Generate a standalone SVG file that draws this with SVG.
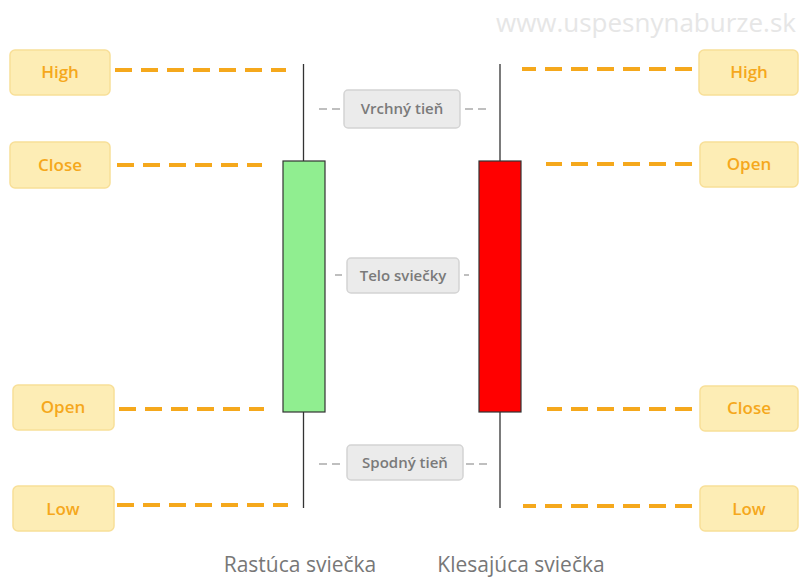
<svg xmlns="http://www.w3.org/2000/svg" width="799" height="577" viewBox="0 0 799 577">
<style>
.tag rect{fill:#fdedb5;stroke:#f8df98;stroke-width:1.5}
.tag text{fill:#f5a81c;font-family:"Open Sans","Liberation Sans",sans-serif;font-size:17px;font-weight:600;text-anchor:middle}
.lab rect{fill:#ebebeb;stroke:#d4d4d4;stroke-width:1.5}
.lab text{fill:#7a7a7a;font-family:"Open Sans","Liberation Sans",sans-serif;font-size:15px;font-weight:600;text-anchor:middle}
.od{stroke:#f5a81c;stroke-width:4;stroke-dasharray:17 9;fill:none}
.gd{stroke:#aaa;stroke-width:1.5;stroke-dasharray:8 5;fill:none}
.wick{stroke:#333;stroke-width:1.3}
.cap{fill:#777;font-family:"Open Sans","Liberation Sans",sans-serif;font-size:21px;text-anchor:middle}
</style>
<rect width="799" height="577" fill="#fff"/>
<text x="796" y="32" fill="#e6e6e6" font-family="Open Sans, Liberation Sans, sans-serif" font-size="26" text-anchor="end">www.uspesnynaburze.sk</text>
<g id="connectors">
<line class="od" x1="115" y1="70" x2="286" y2="70"/>
<line class="od" x1="117" y1="165" x2="262" y2="165"/>
<line class="od" x1="119" y1="409" x2="264" y2="409"/>
<line class="od" x1="117" y1="505" x2="288" y2="505"/>
<line class="od" x1="692" y1="69" x2="522" y2="69"/>
<line class="od" x1="692" y1="164" x2="546" y2="164"/>
<line class="od" x1="692" y1="409" x2="547" y2="409"/>
<line class="od" x1="692" y1="506" x2="523" y2="506"/>
<line class="gd" x1="319" y1="109" x2="342" y2="109"/>
<line class="gd" x1="465" y1="109" x2="488" y2="109"/>
<line class="gd" x1="335" y1="275" x2="342" y2="275"/>
<line class="gd" x1="464" y1="275" x2="469" y2="275"/>
<line class="gd" x1="319" y1="464" x2="342" y2="464"/>
<line class="gd" x1="466" y1="464" x2="489" y2="464"/>
</g>
<g id="candle-up">
<line class="wick" x1="303.5" y1="64" x2="303.5" y2="508"/>
<rect x="283" y="161" width="42" height="251" fill="#90ee90" stroke="#333" stroke-width="1.2"/>
</g>
<g id="candle-down">
<line class="wick" x1="500" y1="64" x2="500" y2="508"/>
<rect x="479" y="161" width="42" height="251" fill="#ff0000" stroke="#333" stroke-width="1.2"/>
</g>
<g id="high-l" class="tag"><rect x="10" y="50" width="100" height="45" rx="5"/><text x="60" y="78">High</text></g>
<g id="close-l" class="tag"><rect x="10" y="142" width="100" height="46" rx="5"/><text x="60" y="171">Close</text></g>
<g id="open-l" class="tag"><rect x="13" y="385" width="101" height="45" rx="5"/><text x="63" y="413">Open</text></g>
<g id="low-l" class="tag"><rect x="13" y="486" width="101" height="45" rx="5"/><text x="63" y="515">Low</text></g>
<g id="high-r" class="tag"><rect x="699" y="50" width="99" height="45" rx="5"/><text x="749" y="78">High</text></g>
<g id="open-r" class="tag"><rect x="700" y="142" width="98" height="45" rx="5"/><text x="749" y="170">Open</text></g>
<g id="close-r" class="tag"><rect x="700" y="386" width="98" height="45" rx="5"/><text x="749" y="414">Close</text></g>
<g id="low-r" class="tag"><rect x="700" y="486" width="98" height="45" rx="5"/><text x="749" y="515">Low</text></g>
<g id="vrchny" class="lab"><rect x="344" y="90" width="116" height="38" rx="4"/><text x="402" y="114">Vrchný tieň</text></g>
<g id="telo" class="lab"><rect x="347" y="258" width="112" height="35" rx="4"/><text x="403" y="281">Telo sviečky</text></g>
<g id="spodny" class="lab"><rect x="347" y="445" width="116" height="35" rx="4"/><text x="405" y="468">Spodný tieň</text></g>
<text class="cap" x="300" y="572">Rastúca sviečka</text>
<text class="cap" x="521" y="572">Klesajúca sviečka</text>
</svg>
